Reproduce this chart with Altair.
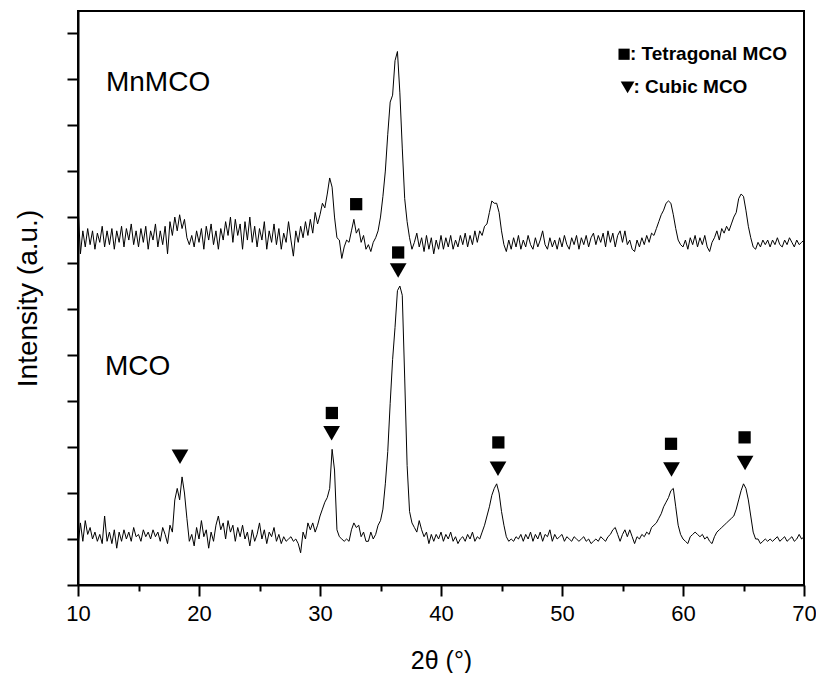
import altair as alt
import pandas as pd

# 2-theta scan grid start/step (degrees)
scan_start = 10.0
scan_step = 0.2

# MCO pattern intensities (a.u.), 10.0 ... 70.0 deg
mco = [
    0.85, 1.35, 0.95, 1.4, 1.1, 1.25, 1.0, 1.15, 0.95, 1.1, 0.9, 1.5, 0.95, 1.15, 0.9, 1.2, 0.8, 1.15, 0.95, 1.2, 1.0, 1.15, 0.95, 1.25, 1.05,
    1.1, 0.95, 1.2, 1.05, 1.15, 1.0, 1.2, 1.05, 1.15, 0.95, 1.25, 1.1, 0.9, 1.3, 1.15, 1.85, 2.1, 1.85, 2.35, 2.0, 1.45, 0.95, 1.1, 0.85, 1.25,
    1.0, 1.4, 1.05, 1.2, 0.8, 1.15, 0.95, 1.3, 1.5, 1.2, 1.35, 1.0, 1.4, 1.15, 1.3, 0.95, 1.25, 1.05, 1.3, 1.0, 1.15, 0.85, 1.2, 0.95, 1.1,
    1.35, 1.0, 1.2, 0.9, 1.15, 1.05, 1.25, 0.95, 1.1, 0.9, 1.05, 0.95, 1.0, 1.05, 0.95, 1.0, 0.9, 0.7, 1.15, 1.0, 1.35, 1.2, 1.35, 1.15, 1.3,
    1.5, 1.65, 1.8, 1.9, 2.1, 2.95, 2.5, 1.2, 1.05, 1.0, 0.95, 1.0, 0.95, 1.2, 1.35, 1.25, 1.3, 1.05, 1.15, 0.95, 0.95, 1.15, 1.0, 1.1, 1.3,
    1.4, 1.65, 2.2, 2.9, 3.95, 4.9, 5.6, 6.4, 6.5, 6.3, 4.5, 2.6, 1.6, 1.35, 1.25, 1.15, 1.4, 1.2, 1.05, 1.15, 0.9, 1.1, 0.95, 1.1, 1.0,
    1.15, 0.95, 1.1, 1.0, 1.15, 0.95, 1.05, 0.9, 1.0, 1.05, 0.95, 1.1, 1.0, 1.15, 0.95, 1.05, 1.0, 1.15, 1.3, 1.5, 1.7, 1.95, 2.1, 2.2, 2.0,
    1.6, 1.3, 1.05, 0.95, 1.0, 0.95, 1.05, 1.0, 1.1, 0.95, 1.1, 1.0, 1.15, 0.95, 1.1, 1.0, 1.15, 0.95, 1.1, 1.05, 1.2, 0.95, 1.1, 1.0, 1.05,
    1.1, 0.95, 1.05, 1.0, 0.95, 1.05, 1.0, 0.95, 1.0, 1.05, 0.95, 1.0, 0.9, 0.95, 1.0, 0.95, 1.05, 1.0, 0.95, 1.05, 1.1, 1.2, 1.25, 1.1, 0.95,
    1.1, 1.2, 1.05, 1.2, 1.05, 0.9, 1.05, 1.0, 1.1, 1.05, 1.15, 1.1, 1.25, 1.3, 1.35, 1.45, 1.55, 1.7, 1.8, 1.9, 2.05, 2.1, 1.7, 1.3, 1.1,
    1.0, 0.95, 0.9, 1.05, 1.1, 1.15, 1.1, 1.05, 1.1, 1.0, 1.05, 0.95, 0.9, 1.05, 1.15, 1.2, 1.25, 1.3, 1.35, 1.4, 1.45, 1.5, 1.65, 1.85, 2.05,
    2.2, 2.1, 1.85, 1.5, 1.15, 1.0, 1.0, 0.9, 0.95, 1.0, 0.95, 1.0, 0.95, 1.0, 1.05, 0.95, 1.0, 1.05, 0.95, 1.0, 1.05, 0.95, 1.0, 1.1, 1.0, 1.05,
]

# MnMCO pattern intensities (a.u.), 10.0 ... 70.0 deg
mnmco = [
    8.25, 7.2, 7.7, 7.35, 7.75, 7.4, 7.7, 7.3, 7.65, 7.45, 7.8, 7.35, 7.7, 7.4, 7.75, 7.3, 7.7, 7.45, 7.8, 7.35, 7.75, 7.5, 7.85, 7.4, 7.7,
    7.35, 7.75, 7.45, 7.8, 7.3, 7.7, 7.5, 7.85, 7.35, 7.7, 7.4, 7.8, 7.2, 7.9, 7.6, 8.0, 7.7, 8.05, 7.75, 7.95, 7.55, 7.4, 7.6, 7.35, 7.7,
    7.45, 7.75, 7.3, 7.8, 7.5, 7.85, 7.4, 7.7, 7.3, 7.75, 7.5, 7.9, 7.6, 8.0, 7.45, 7.95, 7.6, 7.85, 7.3, 7.9, 7.5, 8.0, 7.45, 7.8, 7.35,
    7.75, 7.5, 7.9, 7.3, 7.7, 7.45, 7.85, 7.4, 7.75, 7.3, 7.65, 7.45, 7.9, 7.5, 7.15, 7.7, 7.45, 7.8, 7.55, 7.9, 7.6, 7.95, 7.65, 8.1, 7.85,
    8.05, 8.3, 8.2, 8.5, 8.85, 8.65, 8.0, 7.55, 7.5, 7.1, 7.35, 7.5, 7.45, 7.7, 7.95, 7.65, 7.75, 7.45, 7.6, 7.3, 7.4, 7.25, 7.45, 7.55, 7.7,
    8.0, 8.45, 9.0, 9.8, 10.5, 10.65, 11.4, 11.6, 10.7, 9.5, 8.4, 7.9, 7.55, 7.3, 7.45, 7.65, 7.35, 7.55, 7.25, 7.6, 7.3, 7.55, 7.2, 7.5, 7.3,
    7.6, 7.3, 7.55, 7.35, 7.6, 7.3, 7.5, 7.35, 7.6, 7.4, 7.65, 7.35, 7.6, 7.4, 7.7, 7.45, 7.7, 7.6, 7.8, 7.85, 8.1, 8.35, 8.3, 8.3, 8.1,
    7.7, 7.4, 7.25, 7.5, 7.3, 7.55, 7.35, 7.6, 7.3, 7.5, 7.35, 7.6, 7.4, 7.3, 7.55, 7.35, 7.5, 7.7, 7.4, 7.3, 7.55, 7.35, 7.5, 7.3, 7.55,
    7.35, 7.6, 7.4, 7.3, 7.55, 7.4, 7.6, 7.3, 7.55, 7.4, 7.6, 7.35, 7.55, 7.65, 7.4, 7.6, 7.45, 7.65, 7.35, 7.7, 7.45, 7.65, 7.35, 7.6, 7.7,
    7.45, 7.7, 7.4, 7.5, 7.3, 7.25, 7.5, 7.35, 7.55, 7.4, 7.6, 7.45, 7.65, 7.6, 7.75, 7.9, 8.05, 8.15, 8.3, 8.35, 8.3, 8.05, 7.75, 7.5, 7.4,
    7.35, 7.5, 7.3, 7.55, 7.4, 7.6, 7.35, 7.55, 7.4, 7.6, 7.35, 7.25, 7.45, 7.55, 7.7, 7.5, 7.75, 7.65, 7.8, 7.7, 7.85, 8.0, 8.1, 8.4, 8.5,
    8.45, 8.15, 7.8, 7.55, 7.35, 7.3, 7.45, 7.35, 7.5, 7.4, 7.5, 7.35, 7.5, 7.4, 7.55, 7.4, 7.35, 7.5, 7.4, 7.55, 7.45, 7.35, 7.5, 7.4, 7.45, 7.5,
]

if len(mco) != 301 or len(mnmco) != 301:
    raise ValueError(f"lengths {len(mco)} {len(mnmco)}")

# phase markers
tet_x = [32.99, 36.46, 30.98, 44.74, 59.01, 65.09]
tet_y = [8.28, 7.23, 3.74, 3.10, 3.07, 3.21]
cub_x = [36.46, 30.96, 44.71, 59.05, 65.13, 18.43]
cub_y = [6.84, 3.30, 2.53, 2.51, 2.65, 2.79]

# sample labels
label_text = ["MnMCO", "MCO"]
label_x = [12.31, 12.23]
label_y = [10.74, 4.57]

# legend
leg_sym_x = [55.13, 55.42]
leg_sym_y = [11.54, 10.82]
leg_text = [": Tetragonal MCO", ": Cubic MCO"]
leg_text_x = [55.62, 55.9]

x_ticks = [10, 15, 20, 25, 30, 35, 40, 45, 50, 55, 60, 65, 70]
y_ticks = [i * 0.5 for i in range(25)]

rows = []
for name, vals in (("MCO", mco), ("MnMCO", mnmco)):
    for i, v in enumerate(vals):
        rows.append({"two_theta": round(scan_start + i * scan_step, 2), "intensity": v, "sample": name})
df = pd.DataFrame(rows)

xscale = alt.Scale(domain=[10, 70], nice=False, zero=False)
yscale = alt.Scale(domain=[0, 12.48], nice=False, zero=False)

xaxis = alt.Axis(
    values=x_ticks,
    labelExpr="datum.value % 10 === 0 ? datum.label : ''",
    tickSize={"condition": {"test": "datum.value % 10 === 0", "value": 11}, "value": 6},
    title="2θ (°)",
    titleFontSize=25,
    titleFontWeight="normal",
    titlePadding=24,
    labelFontSize=22,
    labelPadding=7,
    labelFlush=False,
    labelOverlap=False,
    grid=False,
)
yaxis = alt.Axis(
    values=y_ticks,
    labels=False,
    tickSize={"condition": {"test": "datum.value % 1 === 0", "value": 11}, "value": 6},
    title="Intensity (a.u.)",
    titleFontSize=28,
    titleFontWeight="normal",
    titlePadding=24,
    grid=False,
)

lines = alt.Chart(df).mark_line(color="black", strokeWidth=1).encode(
    x=alt.X("two_theta:Q", scale=xscale, axis=xaxis),
    y=alt.Y("intensity:Q", scale=yscale, axis=yaxis),
    detail="sample:N",
)

tet_df = pd.DataFrame({"x": tet_x, "y": tet_y})
cub_df = pd.DataFrame({"x": cub_x, "y": cub_y})

squares = alt.Chart(tet_df).mark_point(shape="square", filled=True, color="black", size=150, opacity=1).encode(
    x=alt.X("x:Q", scale=xscale), y=alt.Y("y:Q", scale=yscale))
tris = alt.Chart(cub_df).mark_point(shape="triangle-down", filled=True, color="black", size=280, opacity=1).encode(
    x=alt.X("x:Q", scale=xscale), y=alt.Y("y:Q", scale=yscale))

lab_df = pd.DataFrame({"t": label_text, "x": label_x, "y": label_y})
labels = alt.Chart(lab_df).mark_text(align="left", baseline="alphabetic", fontSize=28, color="black",
                                     font="Liberation Sans").encode(
    x=alt.X("x:Q", scale=xscale), y=alt.Y("y:Q", scale=yscale), text="t:N")

leg_sq = alt.Chart(pd.DataFrame({"x": [leg_sym_x[0]], "y": [leg_sym_y[0]]})).mark_point(
    shape="square", filled=True, color="black", size=125, opacity=1).encode(
    x=alt.X("x:Q", scale=xscale), y=alt.Y("y:Q", scale=yscale))
leg_tr = alt.Chart(pd.DataFrame({"x": [leg_sym_x[1]], "y": [leg_sym_y[1]]})).mark_point(
    shape="triangle-down", filled=True, color="black", size=190, opacity=1).encode(
    x=alt.X("x:Q", scale=xscale), y=alt.Y("y:Q", scale=yscale))
leg_txt = alt.Chart(pd.DataFrame({"t": leg_text, "x": leg_text_x, "y": leg_sym_y})).mark_text(
    align="left", baseline="middle", fontSize=19, fontWeight="bold", color="black", font="Liberation Sans").encode(
    x=alt.X("x:Q", scale=xscale), y=alt.Y("y:Q", scale=yscale), text="t:N")

chart = alt.layer(lines, squares, tris, labels, leg_sq, leg_tr, leg_txt).properties(
    width=726,
    height=574,
    autosize=alt.AutoSizeParams(type="none"),
    padding={"left": 70, "top": 3, "right": 12, "bottom": 88},
    background="white",
).configure_view(
    stroke="black", strokeWidth=2
).configure_axis(
    domainColor="black", domainWidth=2, tickColor="black", tickWidth=2,
    labelColor="black", titleColor="black",
    labelFont="Liberation Sans", titleFont="Liberation Sans",
)

chart.save("out.html", embed_options={"renderer": "svg", "actions": False})
